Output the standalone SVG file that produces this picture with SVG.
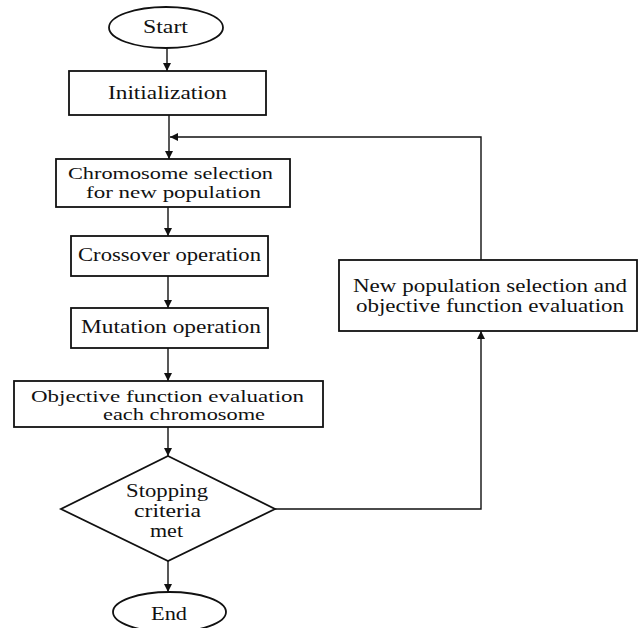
<svg xmlns="http://www.w3.org/2000/svg" width="638" height="628" viewBox="0 0 638 628">
<style>
text{font-family:"Liberation Serif","DejaVu Serif",serif;font-size:19px;fill:#111;text-anchor:middle}
.s{font-size:16.5px}
.b{fill:#fff;stroke:#111;stroke-width:1.8}
.c{fill:none;stroke:#111;stroke-width:1.4}
</style>
<defs>
<marker id="ah" viewBox="0 0 10 10" refX="10" refY="5" markerWidth="8" markerHeight="8" markerUnits="userSpaceOnUse" orient="auto">
<path d="M0,0 L10,5 L0,10 z" fill="#111"/>
</marker>
</defs>
<rect width="638" height="628" fill="#fff"/>
<g id="connectors">
<line class="c" x1="167" y1="48" x2="167" y2="71" marker-end="url(#ah)"/>
<line class="c" x1="169" y1="115" x2="169" y2="159" marker-end="url(#ah)"/>
<line class="c" x1="168" y1="207" x2="168" y2="236" marker-end="url(#ah)"/>
<line class="c" x1="168" y1="276" x2="168" y2="308" marker-end="url(#ah)"/>
<line class="c" x1="168" y1="348" x2="168" y2="381" marker-end="url(#ah)"/>
<line class="c" x1="168" y1="427" x2="168" y2="456" marker-end="url(#ah)"/>
<line class="c" x1="168" y1="561" x2="168" y2="592" marker-end="url(#ah)"/>
<polyline class="c" points="275,509 481,509 481,331" marker-end="url(#ah)"/>
<polyline class="c" points="481,260 481,137 170,137" marker-end="url(#ah)"/>
</g>
<g id="start">
<ellipse class="b" cx="166" cy="27.5" rx="57" ry="20.5" stroke-width="1.4"/>
<text x="165.5" y="33" textLength="45" lengthAdjust="spacingAndGlyphs">Start</text>
</g>
<g id="init">
<rect class="b" x="69" y="71" width="197" height="44" stroke-width="2.2"/>
<text x="167.5" y="99" textLength="119" lengthAdjust="spacingAndGlyphs">Initialization</text>
</g>
<g id="chromosome">
<rect class="b" x="56" y="159" width="234" height="48"/>
<text class="s" x="170.5" y="179" textLength="205" lengthAdjust="spacingAndGlyphs">Chromosome selection</text>
<text class="s" x="173.5" y="198" textLength="175" lengthAdjust="spacingAndGlyphs">for new population</text>
</g>
<g id="crossover">
<rect class="b" x="71" y="236" width="197" height="40"/>
<text x="169.5" y="261" textLength="183" lengthAdjust="spacingAndGlyphs">Crossover operation</text>
</g>
<g id="mutation">
<rect class="b" x="71" y="308" width="197" height="40"/>
<text x="171" y="333" textLength="180" lengthAdjust="spacingAndGlyphs">Mutation operation</text>
</g>
<g id="objective">
<rect class="b" x="14" y="381" width="309" height="46"/>
<text class="s" x="167.5" y="402" textLength="273" lengthAdjust="spacingAndGlyphs">Objective function evaluation</text>
<text class="s" x="184" y="420" textLength="162" lengthAdjust="spacingAndGlyphs">each chromosome</text>
</g>
<g id="decision">
<polygon class="b" points="168,456 275,509 168,561 61,509" stroke-width="1.4"/>
<text x="167" y="497" textLength="82" lengthAdjust="spacingAndGlyphs">Stopping</text>
<text x="167.5" y="517" textLength="67" lengthAdjust="spacingAndGlyphs">criteria</text>
<text x="166.5" y="537" textLength="33" lengthAdjust="spacingAndGlyphs">met</text>
</g>
<g id="end">
<ellipse class="b" cx="169.5" cy="612" rx="56.5" ry="20" stroke-width="1.4"/>
<text x="169" y="620" textLength="36" lengthAdjust="spacingAndGlyphs">End</text>
</g>
<g id="newpop">
<rect class="b" x="339" y="260" width="298" height="71"/>
<text x="490" y="292" textLength="274" lengthAdjust="spacingAndGlyphs">New population selection and</text>
<text x="490" y="312" textLength="268" lengthAdjust="spacingAndGlyphs">objective function evaluation</text>
</g>
</svg>
